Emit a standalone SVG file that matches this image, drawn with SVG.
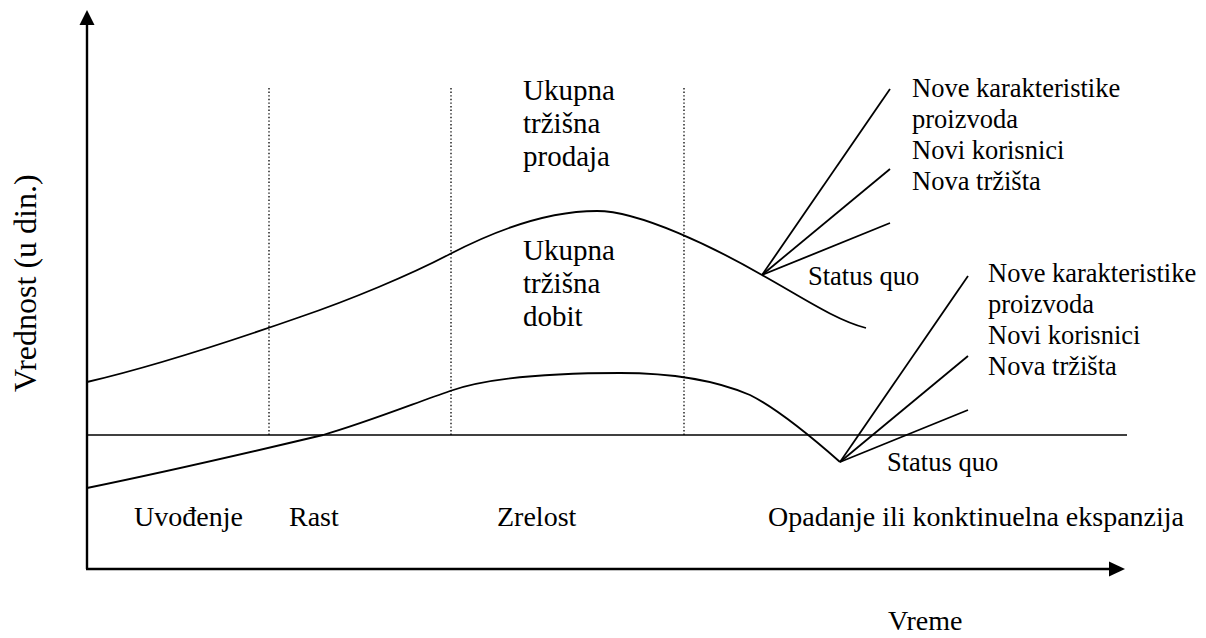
<svg xmlns="http://www.w3.org/2000/svg" width="1206" height="638" viewBox="0 0 1206 638">
  <style>
    .axis { stroke: #000; stroke-width: 2.4; fill: none; }
    .curve { stroke: #000; stroke-width: 1.8; fill: none; }
    .thin { stroke: #000; stroke-width: 1.6; fill: none; }
    .phase { stroke: #000; stroke-width: 1.3; stroke-dasharray: 1.4 2.2; fill: none; }
  </style>
  <rect width="1206" height="638" fill="#fff"/>

  <!-- axes -->
  <g id="axes">
    <line class="axis" x1="87" y1="569" x2="87" y2="22"/>
    <polygon points="87,10 79.5,25 94.5,25" fill="#000"/>
    <line class="axis" x1="86" y1="569" x2="1112" y2="569"/>
    <polygon points="1125,569 1109,561.5 1109,576.5" fill="#000"/>
    <text id="y-label" font-family="Liberation Serif" font-size="32" transform="translate(36,392) rotate(-90)">Vrednost (u din.)</text>
    <text id="x-label" font-family="Liberation Serif" font-size="28" x="888" y="630">Vreme</text>
  </g>

  <!-- phase separators and zero line -->
  <g id="grid">
    <line class="phase" x1="269" y1="88" x2="269" y2="435"/>
    <line class="phase" x1="451" y1="88" x2="451" y2="435"/>
    <line class="phase" x1="684" y1="88" x2="684" y2="435"/>
    <line class="thin" x1="87" y1="435" x2="1127" y2="435"/>
  </g>

  <g id="connectors">
    <!-- total market sales -->
    <path id="sales" class="curve" d="M87,382 C160,365 240,338 300,317 C350,300 410,275 450,254 C500,228 550,211 597,211 C640,211 715,248 762,275 C800,296 835,320 866,328"/>
    <!-- total market profit -->
    <path id="profit" class="curve" d="M87,488 C170,471 260,450 323,435 C365,423 410,405 450,391 C490,377 560,373 620,373 C670,373 715,380 750,395 C780,410 815,440 840,462"/>
    <!-- sales branches -->
    <line class="curve" x1="762" y1="275" x2="890" y2="89"/>
    <line class="curve" x1="762" y1="275" x2="890" y2="169"/>
    <line class="curve" x1="762" y1="275" x2="890" y2="223"/>
    <!-- profit branches -->
    <line class="curve" x1="840" y1="462" x2="968" y2="276"/>
    <line class="curve" x1="840" y1="462" x2="968" y2="356"/>
    <line class="curve" x1="840" y1="462" x2="968" y2="410"/>
  </g>

  <g id="sales-label" font-family="Liberation Serif" font-size="29">
    <text x="523" y="100">Ukupna</text>
    <text x="523" y="133">tržišna</text>
    <text x="523" y="166">prodaja</text>
  </g>
  <g id="profit-label" font-family="Liberation Serif" font-size="29">
    <text x="523" y="260">Ukupna</text>
    <text x="523" y="293">tržišna</text>
    <text x="523" y="326">dobit</text>
  </g>

  <g id="sales-options" font-family="Liberation Serif" font-size="26.5">
    <text x="912" y="97">Nove karakteristike</text>
    <text x="912" y="128">proizvoda</text>
    <text x="912" y="159">Novi korisnici</text>
    <text x="912" y="190">Nova tržišta</text>
    <text x="808" y="285">Status quo</text>
  </g>
  <g id="profit-options" font-family="Liberation Serif" font-size="26.5">
    <text x="988" y="282">Nove karakteristike</text>
    <text x="988" y="313">proizvoda</text>
    <text x="988" y="344">Novi korisnici</text>
    <text x="988" y="375">Nova tržišta</text>
    <text x="887" y="471">Status quo</text>
  </g>

  <g id="phases" font-family="Liberation Serif" font-size="28">
    <text x="134" y="526">Uvođenje</text>
    <text x="289" y="526">Rast</text>
    <text x="497" y="526">Zrelost</text>
    <text x="768" y="526">Opadanje ili konktinuelna ekspanzija</text>
  </g>
</svg>
